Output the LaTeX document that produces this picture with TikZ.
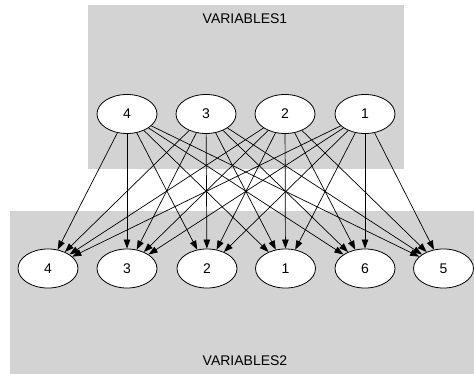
\documentclass[tikz,border=0pt]{standalone}
\usepackage{fontspec}
\setmainfont{Liberation Sans}
\usetikzlibrary{shapes.geometric,arrows.meta}
\definecolor{clustergray}{RGB}{211,211,211}
\begin{document}
\begin{tikzpicture}[x=1pt,y=-1pt,
  var/.style={draw, ellipse, fill=white, line width=0.8pt, minimum width=60pt, minimum height=39pt, inner sep=0pt, font=\fontsize{14}{16}\selectfont},
  lbl/.style={font=\fontsize{14}{16}\selectfont, inner sep=0pt},
  edge/.style={line width=0.7pt, -{Triangle[length=9pt,width=6.5pt]}}]
\useasboundingbox (0,0) rectangle (474,374);
\fill[clustergray] (88,5) rectangle (404,169);
\fill[clustergray] (9.5,211.5) rectangle (474,374);
\node[lbl] (c1) at (245,19) {VARIABLES1};
\node[lbl] (c2) at (245,361) {VARIABLES2};
\node[var] (t4) at (127,114) {4};
\node[var] (t3) at (206,114) {3};
\node[var] (t2) at (285,114) {2};
\node[var] (t1) at (365,114) {1};
\node[var] (b4) at (48,268.5) {4};
\node[var] (b3) at (127,268.5) {3};
\node[var] (b2) at (207,268.5) {2};
\node[var] (b1) at (285.5,268.5) {1};
\node[var] (b6) at (365,268.5) {6};
\node[var] (b5) at (443.5,268.5) {5};
\foreach \s in {t4,t3,t2,t1}{
  \foreach \t in {b4,b3,b2,b1,b6,b5}{
    \draw[edge] (\s) -- (\t);
  }
}
\end{tikzpicture}
\end{document}
